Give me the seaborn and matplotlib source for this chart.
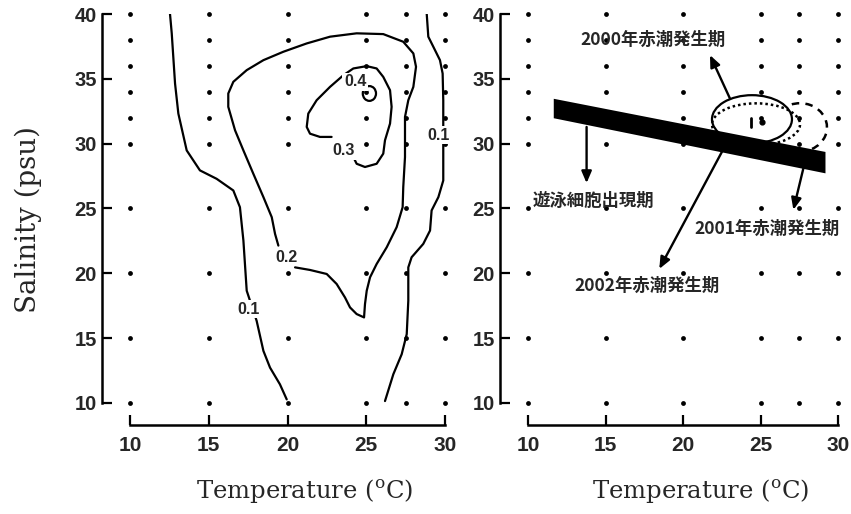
import numpy as np
import pandas as pd
import matplotlib
matplotlib.use("Agg")
import matplotlib.pyplot as plt
from matplotlib.patches import Ellipse, Arc
import seaborn as sns

# ---------------- data ----------------
# sampling grid (temperature, salinity)
grid_temp = [10, 15, 20, 25, 27.5, 30]
grid_sal = [10, 15, 20, 25, 30, 32, 34, 36, 38, 40]

x_ticks = [10, 15, 20, 25, 30]
y_ticks = [10, 15, 20, 25, 30, 35, 40]

# left panel: contour lines
c01a_t = [12.54, 12.65, 12.86, 13.07, 13.60, 14.44, 15.50, 16.56, 16.98, 17.20, 17.41,
          18.04, 18.47, 18.89, 19.52, 19.95]
c01a_s = [40.0, 38.51, 34.64, 32.32, 29.48, 27.94, 27.29, 26.39, 25.10, 22.53, 18.66,
          16.34, 14.02, 12.73, 11.44, 10.28]

c01b_t = [28.84, 28.94, 29.26, 29.68, 29.85, 29.89, 29.89, 29.89, 29.89, 29.58, 29.15,
          29.05, 28.62, 27.88, 27.67, 27.67, 27.57, 27.25, 26.72, 26.19]
c01b_s = [40.0, 38.25, 37.47, 36.44, 35.41, 33.35, 32.32, 29.48, 27.16, 25.88, 24.85,
          23.30, 22.27, 21.24, 20.46, 17.89, 15.31, 13.76, 12.22, 10.15]

c02_t = [19.42, 19.21, 19.00, 18.47, 17.83, 17.20, 16.67, 16.24, 16.24, 16.56, 17.41,
         18.47, 19.74, 21.22, 22.70, 24.39, 26.08, 27.35, 27.99, 28.16, 27.99, 27.67,
         27.46, 27.46, 27.35, 27.31, 26.93, 26.30, 25.66, 25.24, 25.03, 24.92, 24.86,
         24.39, 23.97, 23.65, 23.12, 22.49, 21.43, 20.48]
c02_s = [22.14, 23.04, 24.33, 25.88, 27.68, 29.48, 31.03, 32.84, 33.87, 34.77, 35.67,
         36.44, 37.09, 37.73, 38.25, 38.51, 38.45, 37.86, 36.96, 35.93, 34.38, 33.35,
         32.06, 28.97, 26.65, 25.10, 23.56, 22.01, 20.72, 19.69, 18.66, 17.63, 16.60,
         16.86, 17.37, 18.14, 19.18, 19.95, 20.26, 20.46]

c03_t = [22.80, 22.06, 21.43, 21.22, 21.32, 21.85, 22.70, 23.55, 24.18, 25.03, 25.66,
         26.08, 26.51, 26.61, 26.51, 26.19, 26.08, 25.66, 24.92, 24.39, 24.18]
c03_s = [30.52, 30.52, 30.77, 31.29, 32.32, 33.35, 34.38, 35.28, 35.80, 35.98, 35.80,
         35.15, 34.12, 32.84, 31.55, 30.26, 29.23, 28.45, 28.20, 28.45, 28.97]

c04_center = (25.20, 33.87)
c04_size = (0.84, 1.14)

contour_label_text = ["0.1", "0.1", "0.2", "0.3", "0.4"]
contour_label_t = [17.51, 29.58, 19.95, 23.55, 24.29]
contour_label_s = [17.24, 30.64, 21.24, 29.48, 34.77]

# right panel
band_t = [11.63, 29.16]
band_low = [32.0, 27.75]
band_high = [33.5, 29.4]

ell2000_center = (24.45, 31.88)
ell2000_size = (5.16, 3.72)
ell2001_center = (24.71, 31.49)
ell2001_size = (5.68, 3.24)
arc2002_center = (27.55, 31.26)
arc2002_size = (3.48, 3.72)
arc2002_angles = (-65, 110)

mark_t = [24.36, 24.36]
mark_s = [31.26, 31.96]
dot_t = [25.08]
dot_s = [31.67]

ann_text = ["2000年赤潮発生期", "遊泳細胞出現期", "2001年赤潮発生期", "2002年赤潮発生期"]
ann_text_t = [18.09, 14.22, 25.40, 17.66]
ann_text_s = [37.99, 25.62, 23.43, 19.05]
arrow_tail_t = [23.03, 13.78, 27.76, 22.56]
arrow_tail_s = [33.48, 31.29, 28.07, 29.48]
arrow_head_t = [21.74, 13.78, 27.12, 18.47]
arrow_head_s = [36.83, 26.96, 24.90, 20.34]

# ---------------- style ----------------
sns.set_style("ticks")
plt.rcParams["font.family"] = ["Liberation Sans", "DejaVu Sans"]
plt.rcParams["mathtext.fontset"] = "dejavuserif"

fig = plt.figure(figsize=(8.51, 5.14), dpi=100)
W, H = 851, 514
ax1 = fig.add_axes([130 / W, 1 - 403 / H, 315 / W, 389 / H])
ax2 = fig.add_axes([528 / W, 1 - 403 / H, 310 / W, 389 / H])

grid_df = pd.DataFrame([(t, s) for t in grid_temp for s in grid_sal], columns=["T", "S"])

LW = 1.6
for ax in (ax1, ax2):
    sns.scatterplot(data=grid_df, x="T", y="S", color="black", s=12, marker="o",
                    linewidth=0, clip_on=False, legend=False, ax=ax, zorder=2)
    ax.set_xlim(10, 30)
    ax.set_ylim(10, 40)
    ax.set_xticks(x_ticks)
    ax.set_yticks(y_ticks)
    for sp in ax.spines.values():
        sp.set_linewidth(1.8)
        sp.set_color("black")

sns.despine(fig=fig, offset={"left": 20, "bottom": 16}, trim=True)

for ax in (ax1, ax2):
    ax.tick_params(direction="in", length=7, width=1.6, color="black")
    ax.tick_params(axis="x", pad=8, labelsize=15)
    ax.tick_params(axis="y", pad=4, labelsize=14.5)
    for lbl in ax.get_xticklabels() + ax.get_yticklabels():
        lbl.set_fontweight("bold")
    ax.set_xlabel(r"Temperature ($^{\mathrm{o}}$C)", family="DejaVu Serif", fontsize=17.5)
    ax.xaxis.set_label_coords(0.555, -0.19)
    ax.set_ylabel("")

# left panel contours
for t, s in [(c01a_t, c01a_s), (c01b_t, c01b_s), (c02_t, c02_s), (c03_t, c03_s)]:
    sns.lineplot(x=t, y=s, sort=False, estimator=None, color="black", lw=LW, ax=ax1, zorder=3)
ax1.add_patch(Ellipse(c04_center, *c04_size, fill=False, ec="black", lw=LW, zorder=3))
for txt, t, s in zip(contour_label_text, contour_label_t, contour_label_s):
    ax1.text(t, s, txt, ha="center", va="center", fontsize=11.5, fontweight="bold",
             family=["Liberation Sans", "DejaVu Sans"], zorder=5,
             bbox=dict(boxstyle="square,pad=0.1", fc="white", ec="none"))
ax1.set_xlabel(r"Temperature ($^{\mathrm{o}}$C)", family="DejaVu Serif", fontsize=17.5)
ax1.xaxis.set_label_coords(0.555, -0.19)
ax1.set_ylabel("Salinity (psu)", family="DejaVu Serif", fontsize=20)
ax1.yaxis.set_label_coords(-0.28, 0.473)

# right panel
ax2.add_patch(Ellipse(ell2000_center, *ell2000_size, fill=False, ec="black", lw=LW, zorder=3))
ax2.add_patch(Ellipse(ell2001_center, *ell2001_size, fill=False, ec="black", lw=1.8,
                      ls=(0, (1, 1.2)), zorder=3))
ax2.add_patch(Arc(arc2002_center, *arc2002_size, theta1=arc2002_angles[0],
                  theta2=arc2002_angles[1], ec="black", lw=1.8, ls=(0, (3, 2.5)), zorder=3))
sns.lineplot(x=mark_t, y=mark_s, sort=False, estimator=None, color="black", lw=2, ax=ax2, zorder=3)
ax2.scatter(dot_t, dot_s, color="black", s=12, zorder=3)
ax2.fill_between(band_t, band_low, band_high, color="black", lw=0, zorder=4)

for txt, tx, ty, t0, s0, t1, s1 in zip(ann_text, ann_text_t, ann_text_s, arrow_tail_t,
                                        arrow_tail_s, arrow_head_t, arrow_head_s):
    ax2.annotate("", xy=(t1, s1), xytext=(t0, s0),
                 arrowprops=dict(arrowstyle="-|>,head_length=0.7,head_width=0.3",
                                 color="black", lw=1.7, shrinkA=0, shrinkB=0), zorder=5)
    ax2.text(tx, ty, txt, ha="center", va="center", fontsize=12.5, fontweight="bold",
             family=["Noto Sans CJK JP", "DejaVu Sans"], zorder=6)

fig.savefig("out.png", dpi=100)
